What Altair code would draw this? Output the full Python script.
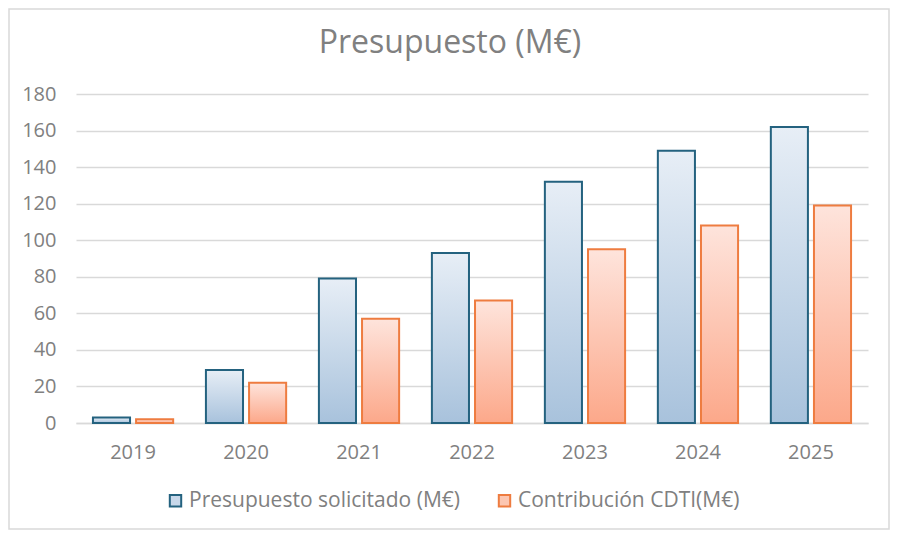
import altair as alt
import pandas as pd

years = ["2019", "2020", "2021", "2022", "2023", "2024", "2025"]
solicitado = [3, 29, 79, 93, 132, 149, 162]
contribucion = [2, 22, 57, 67, 95, 108, 119]
series = ["Presupuesto solicitado (M€)", "Contribución CDTI(M€)"]
y_ticks = [0, 20, 40, 60, 80, 100, 120, 140, 160, 180]

rows = []
for y, a, b in zip(years, solicitado, contribucion):
    rows.append({"year": y, "serie": series[0], "value": a})
    rows.append({"year": y, "serie": series[1], "value": b})
df = pd.DataFrame(rows)

FONT = "Open Sans"
GREY = "#808080"

x_enc = alt.X("year:N", sort=years, title=None,
              scale=alt.Scale(paddingInner=0.29, paddingOuter=0.15),
              axis=alt.Axis(labelAngle=0, labelFontSize=20, labelColor=GREY, labelFont=FONT,
                            labelPadding=19, ticks=False, domainColor="#d9d9d9", domainWidth=1.5))
y_enc = alt.Y("value:Q", title=None,
              scale=alt.Scale(domain=[0, 180], nice=False),
              axis=alt.Axis(values=y_ticks, labelFontSize=20, labelColor=GREY, labelFont=FONT,
                            labelPadding=20, ticks=False, domain=False, labelOverlap=False,
                            gridColor="#d9d9d9", gridWidth=1.5))
xo_enc = alt.XOffset("serie:N", sort=series,
                     scale=alt.Scale(domain=series, paddingInner=0.14, paddingOuter=0))

blue_grad = alt.Gradient(gradient="linear", x1=0, x2=0, y1=0, y2=1,
                         stops=[alt.GradientStop(color="#e7eef6", offset=0),
                                alt.GradientStop(color="#a8c2dc", offset=1)])
orange_grad = alt.Gradient(gradient="linear", x1=0, x2=0, y1=0, y2=1,
                           stops=[alt.GradientStop(color="#fee4dc", offset=0),
                                  alt.GradientStop(color="#fca88a", offset=1)])

base = alt.Chart(df)

bars_blue = base.transform_filter(alt.datum.serie == series[0]).mark_bar(
    fill=blue_grad, stroke="#24627f", strokeWidth=2
).encode(x=x_enc, y=y_enc, xOffset=xo_enc)

bars_orange = base.transform_filter(alt.datum.serie == series[1]).mark_bar(
    fill=orange_grad, stroke="#ee7c40", strokeWidth=2
).encode(x=x_enc, y=y_enc, xOffset=xo_enc)

leg = alt.Legend(title=None, orient="none", direction="horizontal",
                 legendX=89, legendY=396, symbolType="square",
                 symbolSize=130, symbolOpacity=1, symbolStrokeWidth=2,
                 labelFontSize=21, labelColor=GREY, labelFont=FONT, labelLimit=500,
                 labelOffset=3, columnPadding=34)

legend_layer = base.mark_square(opacity=0).encode(
    x=x_enc,
    y=y_enc,
    fill=alt.Fill("serie:N", sort=series,
                  scale=alt.Scale(domain=series, range=["#c8d8ea", "#fcc6b1"]),
                  legend=leg),
    stroke=alt.Stroke("serie:N", sort=series,
                      scale=alt.Scale(domain=series, range=["#24627f", "#ee7c40"]),
                      legend=leg),
)

frame = alt.Chart(pd.DataFrame({"k": [0]})).mark_rect(
    fill=None, stroke="#d9d9d9", strokeWidth=1.5
).encode(x=alt.value(-67), x2=alt.value(813), y=alt.value(-85), y2=alt.value(435))

chart = alt.layer(frame, bars_blue, bars_orange, legend_layer).properties(
    width=792, height=329,
    padding={"left": 68, "top": 86, "right": 22, "bottom": 107},
    autosize=alt.AutoSizeParams(type="none"),
    background="white",
    title=alt.Title("Presupuesto (M€)", fontSize=32, font=FONT, color=GREY,
                    fontWeight="normal", offset=-52, dx=-22, frame="group"),
).configure_view(stroke=None)

chart.save("out.html", embed_options={"renderer": "svg", "actions": False})
